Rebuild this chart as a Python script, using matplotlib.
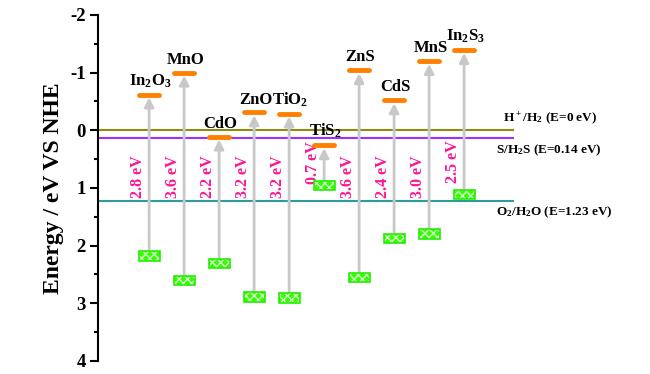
import numpy as np
import matplotlib
matplotlib.use("Agg")
import matplotlib.pyplot as plt
from matplotlib.patches import Rectangle

plt.rcParams["font.family"] = ["Liberation Serif", "DejaVu Serif"]
plt.rcParams["font.weight"] = "bold"
plt.rcParams["mathtext.default"] = "regular"
plt.rcParams["axes.unicode_minus"] = False
plt.rcParams["hatch.linewidth"] = 1.0

# band edges vs NHE (eV), y axis runs downwards
names = [r"In$_2$O$_3$", "MnO", "CdO", "ZnO", r"TiO$_2$", r"TiS$_2$",
         "ZnS", "CdS", "MnS", r"In$_2$S$_3$"]
cb = [-0.62, -1.00, 0.11, -0.31, -0.29, 0.26, -1.04, -0.52, -1.20, -1.39]
vb = [2.18, 2.60, 2.31, 2.89, 2.91, 0.96, 2.56, 1.88, 1.80, 1.11]
gaps = ["2.8 eV", "3.6 eV", "2.2 eV", "3.2 eV", "3.2 eV", "0.7 eV",
        "3.6 eV", "2.4 eV", "3.0 eV", "2.5 eV"]
gap_y = [0.80, 0.80, 0.80, 0.80, 0.80, 0.57, 0.80, 0.80, 0.81, 0.55]

redox = [0.0, 0.14, 1.23]
redox_labels = [r"H$^+$/H$_2$ (E=0 eV)", r"S/H$_2$S (E=0.14 eV)",
                r"O$_2$/H$_2$O (E=1.23 eV)"]
redox_colors = ["#8c8c14", "#9b30ff", "#2e9c9c"]
redox_text_y = [-0.21, 0.35, 1.42]
redox_text_x = [11.11, 10.91, 10.91]

fig = plt.figure(figsize=(6.5, 3.74), dpi=100)
ax = fig.add_axes([0.151, 0.035, 0.64, 0.925])

x = np.arange(1, len(names) + 1)
bw = 0.58

for yv, c in zip(redox, redox_colors):
    ax.axhline(yv, color=c, lw=1.5, zorder=1)
for yv, xt, lab in zip(redox_text_y, redox_text_x, redox_labels):
    ax.text(xt, yv, lab, fontsize=9.5, fontweight="bold", ha="left",
            va="center", clip_on=False)

for i in range(len(names)):
    xi = x[i]
    # arrow from valence band up to conduction band
    ax.annotate("", xy=(xi, cb[i] + 0.05), xytext=(xi, vb[i]),
                arrowprops=dict(arrowstyle="-|>,head_length=0.55,head_width=0.28",
                                color="#c8c8c8", lw=2, shrinkA=0, shrinkB=0),
                zorder=2)
    # conduction band
    ax.plot([xi - bw / 2, xi + bw / 2], [cb[i], cb[i]], color="#ff8000",
            lw=3.5, solid_capstyle="round", zorder=4)
    # valence band box
    ax.add_patch(Rectangle((xi - 0.3, vb[i] - 0.08), 0.6, 0.16,
                           facecolor="#33ff00", edgecolor="#d8ffd0",
                           hatch="xxxx", lw=0, zorder=4))
    ax.add_patch(Rectangle((xi - 0.3, vb[i] - 0.08), 0.6, 0.16,
                           facecolor="none", edgecolor="#22ee00",
                           lw=1.2, zorder=5))
    ax.annotate(names[i], xy=(xi, cb[i]), xytext=(1, 3.5),
                textcoords="offset points", ha="center", va="bottom",
                fontsize=12, fontweight="bold")
    ax.text(xi - 0.33, gap_y[i], gaps[i], rotation=90, color="#ff1493",
            fontsize=11.5, fontweight="bold", ha="center", va="center")

ax.set_xlim(-0.457, 11.43)
ax.set_ylim(4, -2)
ax.set_yticks(np.arange(-2, 5, 1))
ax.set_yticks(np.arange(-1.5, 4, 1), minor=True)
ax.set_xticks([])
for s in ["top", "right", "bottom"]:
    ax.spines[s].set_visible(False)
ax.spines["left"].set_linewidth(1.5)
ax.tick_params(axis="y", which="major", direction="out", length=6, width=1.5,
               labelsize=13.5, pad=3)
ax.tick_params(axis="y", which="minor", direction="out", length=3, width=1.5)
for t in ax.get_yticklabels():
    t.set_fontweight("bold")
ax.set_ylabel("Energy / eV VS NHE", fontsize=17, fontweight="bold")
ax.yaxis.set_label_coords(-0.082, 0.5)

fig.savefig("out.png", dpi=100)
